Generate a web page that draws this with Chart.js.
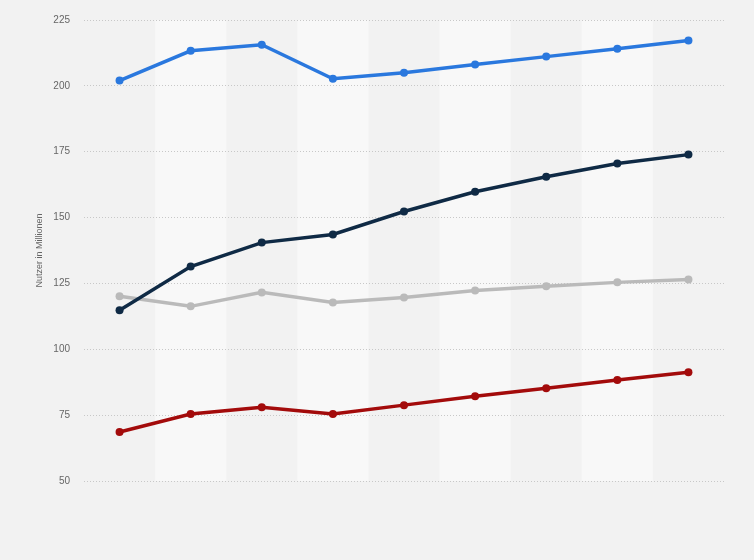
<!DOCTYPE html>
<html>
<head>
<meta charset="utf-8">
<script src="https://cdn.jsdelivr.net/npm/chart.js@4"></script>
<style>
  html, body { margin: 0; padding: 0; background: #f2f2f2; }
  #wrap { width: 754px; height: 560px; }
</style>
</head>
<body>
<div id="wrap"><canvas id="chart"></canvas></div>
<script>
// Data (no category labels are shown)
const categories = ["1", "2", "3", "4", "5", "6", "7", "8", "9"]
const blueSeries = [202, 213.3, 215.6, 202.7, 205, 208.1, 211.1, 214.1, 217.2]
const navySeries = [114.8, 131.4, 140.5, 143.6, 152.3, 159.8, 165.5, 170.5, 173.9]
const greySeries = [120.1, 116.3, 121.6, 117.8, 119.7, 122.3, 123.9, 125.4, 126.5]
const redSeries = [68.6, 75.4, 78, 75.4, 78.8, 82.2, 85.2, 88.3, 91.3]

const yMin = 50
const yMax = 225
const yStep = 25

// Background plus alternating column stripes
const stripes = {
  id: "stripes",
  beforeDraw(chart) {
    const { ctx, chartArea, scales } = chart
    ctx.save()
    ctx.fillStyle = "#f2f2f2"
    ctx.fillRect(0, 0, chart.width, chart.height)
    const x = scales.x
    const band = (chartArea.right - chartArea.left) / categories.length
    ctx.fillStyle = "#f8f8f8"
    categories.forEach((c, i) => {
      if (i % 2 === 1) {
        const cx = x.getPixelForValue(i)
        ctx.fillRect(cx - band / 2, chartArea.top, band, chartArea.bottom - chartArea.top)
      }
    })
    ctx.restore()
  },
}

function line(data, color) {
  return {
    data: data,
    borderColor: color,
    backgroundColor: color,
    borderWidth: 3.5,
    pointRadius: 4,
    pointBorderWidth: 0,
    tension: 0,
  }
}

new Chart(document.getElementById("chart"), {
  type: "line",
  data: {
    labels: categories,
    datasets: [
      line(blueSeries, "#2a78de"),
      line(navySeries, "#0f2a45"),
      line(greySeries, "#bababa"),
      line(redSeries, "#a30b0b"),
    ],
  },
  options: {
    responsive: true,
    maintainAspectRatio: false,
    animation: false,
    layout: { padding: { left: 0, right: 30, top: 19, bottom: 71 } },
    plugins: { legend: { display: false }, tooltip: { enabled: false } },
    scales: {
      x: {
        offset: true,
        ticks: { display: false },
        grid: { display: false },
        border: { display: false },
      },
      y: {
        min: yMin,
        max: yMax,
        afterFit(scale) { scale.width = 84 },
        ticks: {
          stepSize: yStep,
          color: "#666",
          padding: 14,
          font: { family: "'Liberation Sans', Arial", size: 10 },
        },
        grid: { color: "#c8c8c8", drawTicks: false, lineWidth: 1 },
        border: { display: false, dash: [1, 2] },
        title: {
          display: true,
          text: "Nutzer in Millionen",
          color: "#666",
          padding: { top: 34, bottom: 2 },
          font: { family: "'Liberation Sans', Arial", size: 9 },
        },
      },
    },
  },
  plugins: [stripes],
})
</script>
</body>
</html>
